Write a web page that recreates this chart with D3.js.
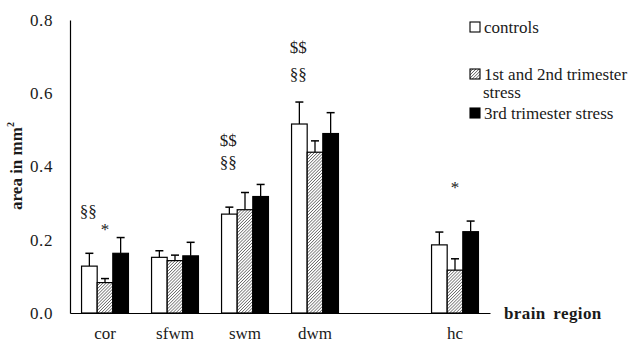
<!DOCTYPE html>
<html lang="en">
<head>
<meta charset="utf-8">
<title>brain region areas</title>
<style>
  html, body {padding: 0; margin: 0; overflow: hidden; background: #fff}
  svg text {font-family: "Liberation Serif", "Times New Roman", Times, "DejaVu Serif", serif; fill: #1a1a1a}
</style>
</head>
<body>
<svg width="628" height="342"></svg>
<script src="https://cdnjs.cloudflare.com/ajax/libs/d3/7.8.5/d3.min.js"></script>
<script>

var regions = ["cor", "sfwm", "swm", "dwm", "", "hc"];
var groups = ["controls", "1st and 2nd trimester stress", "3rd trimester stress"];

var controls = [0.128, 0.152, 0.270, 0.516, null, 0.186];
var controlsErr = [0.035, 0.018, 0.019, 0.060, null, 0.035];
var early = [0.083, 0.143, 0.282, 0.439, null, 0.117];
var earlyErr = [0.011, 0.015, 0.047, 0.031, null, 0.031];
var late = [0.163, 0.156, 0.318, 0.490, null, 0.222];
var lateErr = [0.043, 0.037, 0.033, 0.057, null, 0.029];

var yTicks = [0, 0.2, 0.4, 0.6, 0.8];

// significance marks over the bars (y in data units)
var marks = [
  {region: "cor", text: "§§", y: 0.276},
  {region: "cor", text: "*", y: 0.228, group: 1},
  {region: "swm", text: "§§", y: 0.410},
  {region: "swm", text: "$$", y: 0.472},
  {region: "dwm", text: "§§", y: 0.651},
  {region: "dwm", text: "$$", y: 0.725},
  {region: "hc", text: "*", y: 0.343, group: 1}
];

var svg = d3.select("svg"),
    margin = {left: 70, top: 20, right: 138, bottom: 29},
    width = 628 - margin.left - margin.right,
    height = 342 - margin.top - margin.bottom;

var defs = svg.append("defs");
var pat = defs.append("pattern")
  .attr("id", "hatch")
  .attr("patternUnits", "userSpaceOnUse")
  .attr("width", 2.2).attr("height", 2.2)
  .attr("patternTransform", "rotate(45)");
pat.append("rect").attr("width", 2.2).attr("height", 2.2).attr("fill", "#fff");
pat.append("line").attr("x1", 0).attr("y1", 0).attr("x2", 0).attr("y2", 2.2)
  .attr("stroke", "#333").attr("stroke-width", 1.1);

var g = svg.append("g").attr("transform", "translate(" + margin.left + "," + margin.top + ")");

var x = d3.scaleBand().domain(regions).range([0, width]).paddingInner(0.33).paddingOuter(0.165);
var xs = d3.scaleBand().domain(groups).range([0, x.bandwidth()]);
var y = d3.scaleLinear().domain([0, 0.8]).range([height, 0]);

var fills = ["#fff", "url(#hatch)", "#000"];
var series = [controls, early, late];
var errs = [controlsErr, earlyErr, lateErr];

series.forEach(function(vals, si) {
  var data = regions.map(function(r, i) { return {r: r, v: vals[i], e: errs[si][i]}; })
    .filter(function(d) { return d.v != null; });
  var gg = g.append("g");
  var cx = function(d) { return x(d.r) + xs(groups[si]) + xs.bandwidth() / 2; };
  gg.selectAll("line.err").data(data).enter().append("line")
    .attr("x1", cx).attr("x2", cx)
    .attr("y1", function(d) { return y(d.v); })
    .attr("y2", function(d) { return y(d.v + d.e); })
    .attr("stroke", "#000").attr("stroke-width", 1.3);
  gg.selectAll("line.cap").data(data).enter().append("line")
    .attr("x1", function(d) { return cx(d) - 4; })
    .attr("x2", function(d) { return cx(d) + 4; })
    .attr("y1", function(d) { return y(d.v + d.e); })
    .attr("y2", function(d) { return y(d.v + d.e); })
    .attr("stroke", "#000").attr("stroke-width", 1.5);
  gg.selectAll("rect").data(data).enter().append("rect")
    .attr("x", function(d) { return x(d.r) + xs(groups[si]); })
    .attr("y", function(d) { return y(d.v); })
    .attr("width", xs.bandwidth())
    .attr("height", function(d) { return y(0) - y(d.v); })
    .attr("fill", fills[si])
    .attr("stroke", "#000").attr("stroke-width", 1.2);
});

// axes
var yAxis = g.append("g").call(d3.axisLeft(y).tickValues(yTicks).tickFormat(d3.format(".1f")).tickSize(0).tickPadding(17));
yAxis.attr("font-family", null);
yAxis.select(".domain").attr("stroke", "#000").attr("stroke-width", 1.2);
yAxis.selectAll("text").style("font-size", "17px").style("letter-spacing", "0.6px");

var xAxis = g.append("g").attr("transform", "translate(0," + height + ")")
  .call(d3.axisBottom(x).tickSize(0).tickPadding(14));
xAxis.attr("font-family", null);
xAxis.select(".domain").attr("stroke", "#000").attr("stroke-width", 1.2);
xAxis.selectAll("text").style("font-size", "17px");

g.selectAll("text.mark").data(marks).enter().append("text")
  .attr("class", "mark")
  .attr("x", function(d) {
    var gi = d.group == null ? 0 : d.group;
    return x(d.region) + xs(groups[gi]) + xs.bandwidth() / 2 - (d.group == null ? 1 : 0);
  })
  .attr("y", function(d) { return y(d.y); })
  .attr("text-anchor", "middle")
  .attr("dominant-baseline", "central")
  .style("font-size", "17px")
  .style("fill", "#1a1a1a")
  .text(function(d) { return d.text; });

// axis titles
svg.append("text")
  .attr("transform", "translate(16,166) rotate(-90)")
  .attr("text-anchor", "middle")
  .attr("dominant-baseline", "central")
  .style("font-size", "17px").style("font-weight", "bold")
  .html("area in mm<tspan dy='-6' style='font-size:10px'>2</tspan>");

svg.append("text")
  .attr("x", 504).attr("y", 313)
  .attr("dominant-baseline", "central")
  .style("font-size", "17px").style("font-weight", "bold")
  .style("letter-spacing", "0.4px").style("word-spacing", "3px")
  .text("brain region");

// legend
var legend = [
  {lines: ["controls"], y: 27},
  {lines: ["1st and 2nd trimester", "stress"], y: 74},
  {lines: ["3rd trimester stress"], y: 113}
];
legend.forEach(function(l, i) {
  svg.append("rect").attr("x", 470).attr("y", l.y - 5).attr("width", 10).attr("height", 10)
    .attr("fill", fills[i]).attr("stroke", "#000").attr("stroke-width", 1.1);
  l.lines.forEach(function(t, j) {
    svg.append("text").attr("x", j ? 483 : 484).attr("y", l.y + j * 18)
      .attr("dominant-baseline", "central")
      .style("font-size", "17px")
      .text(t);
  });
});

</script>
</body>
</html>
